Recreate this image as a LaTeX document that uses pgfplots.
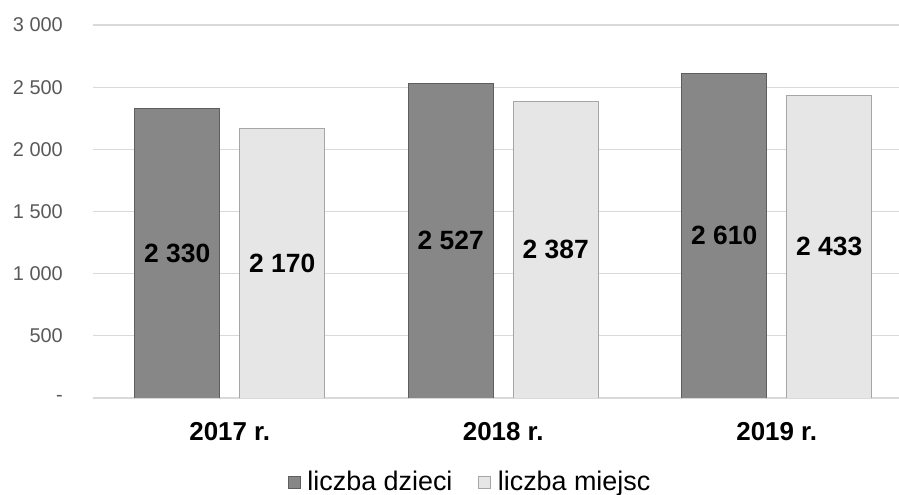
\documentclass[border=0pt]{standalone}
\usepackage{pgfplots}
\pgfplotsset{compat=1.18}
\usepackage{fontspec}
\setmainfont{Liberation Sans}
\definecolor{darkbar}{HTML}{878787}
\definecolor{darkedge}{HTML}{5E5E5E}
\definecolor{lightbar}{HTML}{E6E6E6}
\definecolor{lightedge}{HTML}{A6A6A6}
\definecolor{gridc}{HTML}{D9D9D9}
\definecolor{tickc}{HTML}{595959}
\begin{document}
\begin{tikzpicture}
\useasboundingbox (0,0) rectangle (899bp,495bp);
\begin{axis}[
  at={(93bp,97bp)}, anchor=south west,
  width=806bp, height=373bp, scale only axis,
  xmin=-0.5, xmax=2.447, ymin=0, ymax=3000,
  xtick={0,1,2}, xticklabels={2017 r.,2018 r.,2019 r.},
  ytick={0,500,1000,1500,2000,2500,3000},
  yticklabels={-,500,1 000,1 500,2 000,2 500,3 000},
  ymajorgrids, grid style={gridc, line width=1.2bp},
  axis line style={draw=none},
  major tick length=0pt,
  yticklabel style={font=\fontsize{20}{24}\selectfont, text=tickc, anchor=east, inner sep=0pt, xshift=-30bp},
  xticklabel style={font=\fontsize{26}{30}\selectfont\bfseries, anchor=center, inner sep=0pt, yshift=-34bp},
  ybar=20bp, bar width=85bp,
  point meta=explicit symbolic,
  nodes near coords,
  visualization depends on=y \as \rawy,
  every node near coord/.append style={font=\fontsize{26.5}{30}\selectfont\bfseries, text=black, anchor=center, shift={(axis direction cs:0,-\rawy/2)}},
  legend style={at={(0.468,-0.225)}, anchor=center, draw=none, legend columns=2, font=\fontsize{27}{30}\selectfont,
    /tikz/every even column/.append style={column sep=24bp}},
  legend image code/.code={\draw[#1, line width=0.8bp] (-6bp,-6bp) rectangle (6bp,6bp); \path[draw=none, fill=none] (-6bp,0bp) -- (11bp,0bp);},
]
\addplot[fill=darkbar, draw=darkedge, line width=1bp] coordinates {(0,2330) [2 330] (1,2527) [2 527] (2,2610) [2 610]};
\addlegendentry{liczba dzieci}
\addplot[fill=lightbar, draw=lightedge, line width=1bp] coordinates {(0,2170) [2 170] (1,2387) [2 387] (2,2433) [2 433]};
\addlegendentry{liczba miejsc}
\end{axis}
\end{tikzpicture}
\end{document}
